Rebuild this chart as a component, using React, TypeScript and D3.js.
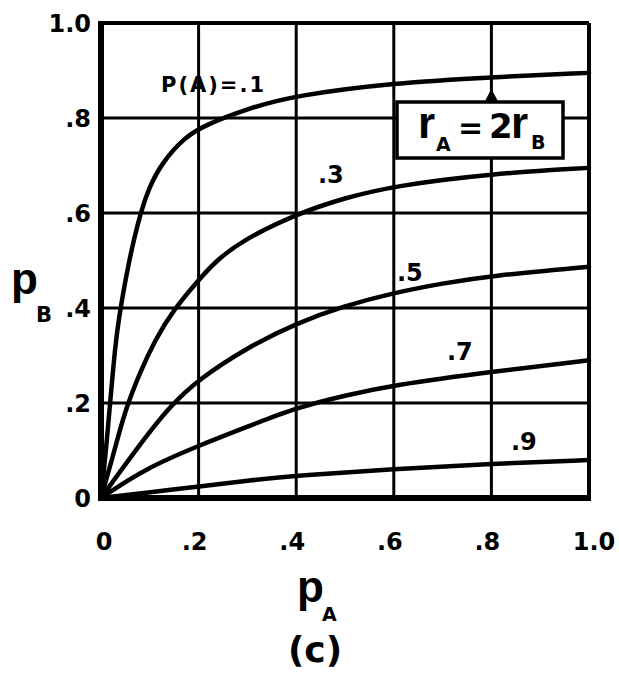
import React from "react";
import * as d3 from "d3";

// p_B versus p_A for several values of P(A), with r_A = 2 r_B
const curveP01: [number, number][] = [
  [0, 0], [0.007, 0.07], [0.012, 0.122], [0.018, 0.192], [0.029, 0.32], [0.037, 0.38],
  [0.046, 0.435], [0.056, 0.49], [0.068, 0.547], [0.082, 0.603], [0.097, 0.65],
  [0.124, 0.705], [0.172, 0.76], [0.213, 0.785], [0.3, 0.82], [0.4, 0.848],
  [0.6, 0.874], [0.8, 0.886], [1.0, 0.895],
];
const curveP03: [number, number][] = [
  [0, 0], [0.029, 0.105], [0.048, 0.18], [0.08, 0.265], [0.111, 0.333], [0.148, 0.396],
  [0.206, 0.466], [0.234, 0.497], [0.285, 0.54], [0.4, 0.598], [0.5, 0.632],
  [0.6, 0.657], [0.8, 0.683], [1.0, 0.695],
];
const curveP05: [number, number][] = [
  [0, 0], [0.076, 0.108], [0.14, 0.192], [0.2, 0.25], [0.3, 0.317], [0.4, 0.368],
  [0.5, 0.405], [0.6, 0.432], [0.7, 0.452], [0.8, 0.468], [1.0, 0.487],
];
const curveP07: [number, number][] = [
  [0, 0], [0.09, 0.062], [0.207, 0.113], [0.305, 0.152], [0.4, 0.19], [0.5, 0.216],
  [0.6, 0.238], [0.8, 0.266], [1.0, 0.29],
];
const curveP09: [number, number][] = [
  [0, 0], [0.1, 0.012], [0.207, 0.025], [0.305, 0.037], [0.4, 0.047], [0.6, 0.061],
  [0.8, 0.072], [1.0, 0.08],
];

const series = [curveP01, curveP03, curveP05, curveP07, curveP09];
const gridValues = [0.2, 0.4, 0.6, 0.8];
const xTickValues = [0, 0.2, 0.4, 0.6, 0.8, 1.0];
const xTickLabels = ["0", ".2", ".4", ".6", ".8", "1.0"];
const yTickValues = [0, 0.2, 0.4, 0.6, 0.8, 1.0];
const yTickLabels = ["0", ".2", ".4", ".6", ".8", "1.0"];

const FONT = "'DejaVu Sans', sans-serif";
const FONT_P = "'Liberation Sans', Arial, sans-serif";

export default function App() {
  const x = d3.scaleLinear().domain([0, 1]).range([101, 589]);
  const y = d3.scaleLinear().domain([0, 1]).range([498, 23]);

  const line = d3
    .line<[number, number]>()
    .x((d) => x(d[0]))
    .y((d) => y(d[1]))
    .curve(d3.curveBasis);

  return (
    <svg
      width={619}
      height={674}
      viewBox="0 0 619 674"
      style={{ position: "absolute", left: 0, top: 0, background: "#fff" }}
    >
      <rect x={0} y={0} width={619} height={674} fill="#fff" />

      {/* grid */}
      {gridValues.map((v) => (
        <line key={"gx" + v} x1={x(v)} x2={x(v)} y1={y(1)} y2={y(0)} stroke="#000" strokeWidth={3} />
      ))}
      {gridValues.map((v) => (
        <line key={"gy" + v} x1={x(0)} x2={x(1)} y1={y(v)} y2={y(v)} stroke="#000" strokeWidth={3} />
      ))}

      {/* frame */}
      <line x1={x(0)} x2={x(1)} y1={y(1)} y2={y(1)} stroke="#000" strokeWidth={4} />
      <line x1={x(1)} x2={x(1)} y1={y(1)} y2={y(0)} stroke="#000" strokeWidth={4} />
      <line x1={x(0) - 2} x2={x(1) + 2} y1={y(0)} y2={y(0)} stroke="#000" strokeWidth={6} />
      <line x1={x(0)} x2={x(0)} y1={y(1) - 2} y2={y(0) + 3} stroke="#000" strokeWidth={6} />

      {/* curves */}
      {series.map((s, i) => (
        <path key={"c" + i} d={line(s) || ""} fill="none" stroke="#000" strokeWidth={4.5} strokeLinecap="round" />
      ))}

      {/* curve labels */}
      <text x={161} y={92} fontFamily={FONT} fontWeight="bold" fontSize={21} letterSpacing={2}>
        P(A)=.1
      </text>
      <text x={318} y={183} fontFamily={FONT} fontWeight="bold" fontSize={24}>.3</text>
      <text x={397} y={281} fontFamily={FONT} fontWeight="bold" fontSize={24}>.5</text>
      <text x={447} y={360} fontFamily={FONT} fontWeight="bold" fontSize={24}>.7</text>
      <text x={511} y={450} fontFamily={FONT} fontWeight="bold" fontSize={24}>.9</text>

      {/* ratio box */}
      <path d={`M${x(0.8) - 7},${102} L${x(0.8)},${89} L${x(0.8) + 7},${102} Z`} fill="#000" />
      <rect x={397} y={102} width={166} height={56} fill="#fff" stroke="#000" strokeWidth={3.5} />
      <text x={418} y={138} fontFamily={FONT_P} fontWeight="bold" fontSize={44}>r</text>
      <text x={436} y={151} fontFamily={FONT} fontWeight="bold" fontSize={19}>A</text>
      <text x={458} y={138} fontFamily={FONT} fontWeight="bold" fontSize={30}>=</text>
      <text x={489} y={138} fontFamily={FONT} fontWeight="bold" fontSize={34}>2</text>
      <text x={511} y={138} fontFamily={FONT_P} fontWeight="bold" fontSize={44}>r</text>
      <text x={531} y={149} fontFamily={FONT} fontWeight="bold" fontSize={19}>B</text>

      {/* y tick labels */}
      {yTickValues.map((v, i) => (
        <text
          key={"yl" + v}
          x={91}
          y={y(v) + 9}
          textAnchor="end"
          fontFamily={FONT}
          fontWeight="bold"
          fontSize={24}
        >
          {yTickLabels[i]}
        </text>
      ))}

      {/* x tick labels */}
      {xTickValues.map((v, i) => (
        <text
          key={"xl" + v}
          x={i === 0 ? x(v) + 3 : i === xTickValues.length - 1 ? x(v) + 5 : x(v) - 4}
          y={550}
          textAnchor="middle"
          fontFamily={FONT}
          fontWeight="bold"
          fontSize={24}
        >
          {xTickLabels[i]}
        </text>
      ))}

      {/* axis titles */}
      <text x={11} y={294} fontFamily={FONT_P} fontWeight="bold" fontSize={44}>p</text>
      <text x={36} y={322} fontFamily={FONT} fontWeight="bold" fontSize={21}>B</text>
      <text x={297} y={602} fontFamily={FONT_P} fontWeight="bold" fontSize={44}>p</text>
      <text x={322} y={621} fontFamily={FONT} fontWeight="bold" fontSize={19}>A</text>
      <text x={315} y={662} textAnchor="middle" fontFamily={FONT} fontWeight="bold" fontSize={36}>
        (c)
      </text>
    </svg>
  );
}
